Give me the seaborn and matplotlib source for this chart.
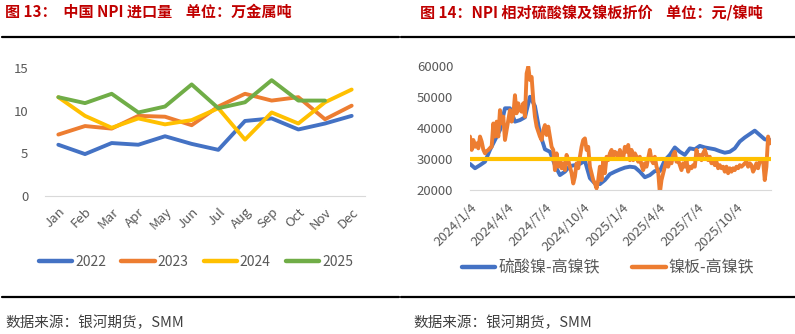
import numpy as np
import pandas as pd
import matplotlib
matplotlib.use("Agg")
import matplotlib.pyplot as plt
import matplotlib.dates as mdates
from matplotlib.lines import Line2D
import seaborn as sns

# ---------------- data ----------------
months = ["Jan", "Feb", "Mar", "Apr", "May", "Jun", "Jul", "Aug", "Sep", "Oct", "Nov", "Dec"]
years = ["2022", "2023", "2024", "2025"]
npi_2022 = [6.0, 4.9, 6.2, 6.0, 7.0, 6.1, 5.4, 8.8, 9.1, 7.8, 8.5, 9.4]
npi_2023 = [7.2, 8.2, 7.9, 9.4, 9.3, 8.3, 10.5, 12.0, 11.2, 11.6, 9.0, 10.6]
npi_2024 = [11.6, 9.4, 8.0, 9.1, 8.4, 8.9, 10.3, 6.6, 9.8, 8.5, 11.0, 12.5]
npi_2025 = [11.6, 10.9, 12.0, 9.8, 10.5, 13.1, 10.3, 11.0, 13.6, 11.2, 11.2, None]

sulfate_start = "2024-01-04"
sulfate_minus_npi = [28400, 27000, 28000, 29100, 32900, 36100, 39300, 46300, 46300, 42000,
                     42500, 43400, 50000, 47000, 38200, 33100, 32300, 28000, 24800, 25900,
                     27700, 28000, 28400, 29400, 23800, 22100, 21900, 23200, 25100, 25900,
                     26600, 27200, 27500, 27300, 25900, 24100, 24800, 26100, 26100, 29600,
                     31300, 33700, 32300, 31300, 33400, 33100, 34200, 33700, 33400, 33100,
                     32500, 32000, 32300, 33400, 35600, 36900, 38000, 39100, 37700, 36300,
                     36100]
plate_start = "2024-01-04"
plate_minus_npi = [37200, 32900, 36100, 33900, 35000, 33400, 37200, 35600, 33000, 31800,
                   32500, 32900, 33500, 33900, 41400, 37200, 42000, 37200, 45700, 41400,
                   43600, 36100, 39300, 42500, 45700, 42000, 44100, 50500, 44700, 47900,
                   45700, 45200, 47900, 43600, 57500, 59700, 55400, 56400, 49000, 43600,
                   40400, 38800, 37200, 36100, 39300, 40900, 37700, 40400, 37200, 33900,
                   32900, 26400, 31800, 27500, 29600, 27000, 28600, 26400, 31300, 29600,
                   27500, 25400, 22100, 24300, 28600, 27000, 30700, 33900, 36100, 36600,
                   32900, 33900, 27500, 25400, 23200, 22100, 20500, 23200, 27500, 23200,
                   29600, 25400, 30700, 29600, 31800, 32900, 30700, 32300, 31800, 30200,
                   32900, 31300, 30200, 33900, 32300, 34500, 29600, 32900, 29600, 31800,
                   30700, 29100, 30700, 28000, 26400, 28600, 27500, 30200, 32900, 29600,
                   28600, 30700, 27500, 25900, 19000, 23200, 25400, 27500, 29600, 27500,
                   29100, 28600, 31300, 32300, 29100, 29600, 28000, 26400, 28600, 27500,
                   29600, 25900, 27500, 27000, 28000, 27500, 32900, 30200, 31300, 29600,
                   31800, 32900, 31300, 29600, 30700, 28600, 29600, 28000, 29100, 27000,
                   28000, 27000, 27500, 25900, 27500, 25400, 27000, 25900, 27000, 26400,
                   27500, 27000, 28000, 27500, 28000, 28600, 29100, 27500, 28600, 28000,
                   25900, 27000, 28600, 27000, 29100, 29600, 29600, 23200, 27500, 37200,
                   35000]
reference_level = 30000
date_ticks = ["2024-01-04", "2024-04-04", "2024-07-04", "2024-10-04",
              "2025-01-04", "2025-04-04", "2025-07-04", "2025-10-04"]
right_legend = ["硫酸镍-高镍铁", "镍板-高镍铁"]

# ---------------- style ----------------
sns.set_style("white")
plt.rcParams["font.family"] = ["Noto Sans CJK SC", "DejaVu Sans"]

BLUE, ORANGE, YELLOW, GREEN = "#4472C4", "#ED7D31", "#FFC000", "#70AD47"
GRAY_TXT = "#595959"
AXIS_GRAY = "#D9D9D9"
TITLE_RED = "#C00000"

W, H = 795, 334
fig = plt.figure(figsize=(W / 100, H / 100), dpi=100)

def fx(px):
    return px / W

def fy(py):
    return 1 - py / H

# ---------------- left chart ----------------
ax1 = fig.add_axes([fx(45), fy(195.7), fx(320), 127.4 / H])
rows = []
for yr, vals in zip(years, [npi_2022, npi_2023, npi_2024, npi_2025]):
    for i, v in enumerate(vals):
        if v is not None:
            rows.append({"m": i, "v": v, "year": yr})
df1 = pd.DataFrame(rows)
sns.lineplot(data=df1, x="m", y="v", hue="year", hue_order=years,
             palette=[BLUE, ORANGE, YELLOW, GREEN], linewidth=2.8,
             legend=False, ax=ax1, sort=False)
ax1.set_xlim(-0.5, 11.5)
ax1.set_ylim(0, 15)
ax1.set_yticks([0, 5, 10, 15])
ax1.set_xticks(range(12))
ax1.set_xticklabels(months, rotation=45, ha="right", va="top",
                    rotation_mode="anchor", color=GRAY_TXT, fontsize=9.5)
ax1.set_xticks(np.arange(-0.5, 12, 1), minor=True)
ax1.tick_params(axis="x", which="major", length=0, pad=7)
ax1.tick_params(axis="x", which="minor", length=3, color=AXIS_GRAY, width=0.8)
ax1.tick_params(axis="y", length=0, pad=12, labelcolor=GRAY_TXT, labelsize=9.5)
ax1.set_xlabel("")
ax1.set_ylabel("")
for s in ["top", "right", "left"]:
    ax1.spines[s].set_visible(False)
ax1.spines["bottom"].set_color(AXIS_GRAY)
ax1.spines["bottom"].set_linewidth(0.8)

h1 = [Line2D([], [], color=c, lw=3.2, solid_capstyle="round")
      for c in [BLUE, ORANGE, YELLOW, GREEN]]
fig.legend(h1, years, loc="center", bbox_to_anchor=(fx(196), fy(262)), ncol=4,
           frameon=False, fontsize=10, handlelength=2.4, handletextpad=0.2,
           columnspacing=1.1, labelcolor=GRAY_TXT)

# ---------------- right chart ----------------
ax2 = fig.add_axes([fx(470), fy(190), fx(301), 124.3 / H])
d_sul = pd.date_range(sulfate_start, periods=len(sulfate_minus_npi), freq="12D")
d_pla = pd.date_range(plate_start, periods=len(plate_minus_npi), freq="4D")
df_s = pd.DataFrame({"date": d_sul, "v": sulfate_minus_npi})
df_p = pd.DataFrame({"date": d_pla, "v": plate_minus_npi})
sns.lineplot(data=df_s, x="date", y="v", color=BLUE, linewidth=2.8, ax=ax2)
sns.lineplot(data=df_p, x="date", y="v", color=ORANGE, linewidth=2.8, ax=ax2)
ax2.axhline(reference_level, color=YELLOW, linewidth=3.0)
ax2.set_xlim(pd.Timestamp("2024-01-04"), pd.Timestamp("2025-12-27"))
ax2.set_ylim(20000, 60000)
ax2.set_yticks([20000, 30000, 40000, 50000, 60000])
tick_dates = pd.to_datetime(date_ticks)
ax2.set_xticks(tick_dates)
ax2.set_xticklabels([f"{d.year}/{d.month}/{d.day}" for d in tick_dates],
                    rotation=45, ha="right", va="top", rotation_mode="anchor",
                    color=GRAY_TXT, fontsize=9.5)
ax2.tick_params(axis="x", length=4, color=AXIS_GRAY, width=0.8, pad=4)
ax2.tick_params(axis="y", length=0, pad=12, labelcolor=GRAY_TXT, labelsize=9.5)
ax2.set_xlabel("")
ax2.set_ylabel("")
for s in ["top", "right", "left"]:
    ax2.spines[s].set_visible(False)
ax2.spines["bottom"].set_color(AXIS_GRAY)
ax2.spines["bottom"].set_linewidth(0.8)

h2 = [Line2D([], [], color=c, lw=3.2, solid_capstyle="round") for c in [BLUE, ORANGE]]
fig.legend(h2, right_legend, loc="center", bbox_to_anchor=(fx(608), fy(268)), ncol=2,
           frameon=False, fontsize=11.5, handlelength=2.1, handletextpad=0.2,
           columnspacing=2.0, labelcolor=GRAY_TXT)

# ---------------- titles, rules, sources ----------------
fig.text(fx(5), fy(12), "图 13：  中国 NPI 进口量    单位：万金属吨", color=TITLE_RED,
         fontsize=10.9, fontweight="bold", va="center", ha="left")
fig.text(fx(420), fy(12), "图 14：NPI 相对硫酸镍及镍板折价    单位：元/镍吨", color=TITLE_RED,
         fontsize=10.9, fontweight="bold", va="center", ha="left")
for x0, x1 in [(2, 399), (401, 795)]:
    for yy in [37, 297]:
        fig.add_artist(Line2D([fx(x0), fx(x1)], [fy(yy), fy(yy)],
                              transform=fig.transFigure, color="black", lw=1.6))
fig.text(fx(5), fy(323), "数据来源：银河期货，SMM", color="#404040",
         fontsize=10.5, va="center", ha="left")
fig.text(fx(413), fy(323), "数据来源：银河期货，SMM", color="#404040",
         fontsize=10.5, va="center", ha="left")

fig.savefig("out.png", dpi=100)
